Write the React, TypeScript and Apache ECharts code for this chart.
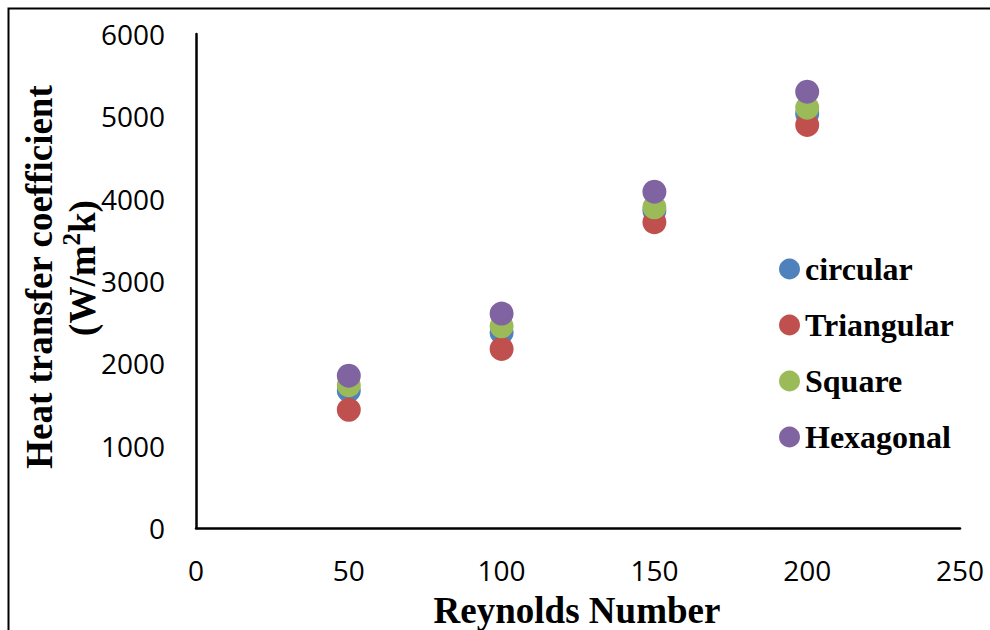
import React, { useEffect, useRef } from "react";
import * as echarts from "echarts";

const reynolds = [50, 100, 150, 200];
const circular = [1670, 2375, 3855, 5030];
const triangular = [1435, 2175, 3715, 4895];
const square = [1735, 2450, 3895, 5105];
const hexagonal = [1850, 2605, 4085, 5300];
const seriesNames = ["circular", "Triangular", "Square", "Hexagonal"];
const colors = ["#4F81BD", "#C0504D", "#9BBB59", "#8064A2"];
const xTitle = "Reynolds Number";
const yTitle1 = "Heat transfer coefficient";
const yTitle2Parts = ["(W/m", "2", "k)"];

export default function App() {
  const ref = useRef<HTMLDivElement>(null);
  useEffect(() => {
    if (!ref.current) return;
    const chart = echarts.init(ref.current, undefined, { renderer: "svg" });
    const all = [circular, triangular, square, hexagonal];
    const serif = "'Liberation Serif', 'Times New Roman', serif";
    const sans = "'Open Sans', sans-serif";
    chart.setOption({
      animation: false,
      backgroundColor: "#ffffff",
      grid: { left: 196, top: 34, right: 30, bottom: 102, containLabel: false },
      xAxis: {
        type: "value",
        min: 0,
        max: 250,
        interval: 50,
        axisLine: { show: true, lineStyle: { color: "#000", width: 2.5 } },
        axisTick: { show: false },
        splitLine: { show: false },
        axisLabel: {
          color: "#000",
          fontSize: 28,
          fontFamily: sans,
          margin: 28,
          formatter: (v: number) => String(v),
        },
      },
      yAxis: {
        type: "value",
        min: 0,
        max: 6000,
        interval: 1000,
        axisLine: { show: true, lineStyle: { color: "#000", width: 2.5 } },
        axisTick: { show: false },
        splitLine: { show: false },
        axisLabel: {
          color: "#000",
          fontSize: 28,
          fontFamily: sans,
          margin: 31,
          formatter: (v: number) => String(v),
        },
      },
      legend: {
        orient: "vertical",
        left: 779,
        top: 251,
        padding: 0,
        itemWidth: 21,
        itemHeight: 21,
        itemGap: 20,
        itemTextGap: 5,
        icon: "circle",
        data: seriesNames,
        textStyle: {
          color: "#000",
          fontSize: 32,
          fontWeight: "bold",
          fontFamily: serif,
          lineHeight: 36,
        },
      },
      graphic: [
        {
          type: "rect",
          shape: { x: 8.5, y: 8.5, width: 1100, height: 800 },
          style: { fill: "none", stroke: "#000", lineWidth: 2 },
          silent: true,
        },
        {
          type: "text",
          x: 577,
          y: 610,
          style: {
            text: xTitle,
            fill: "#000",
            font: `bold 37px ${serif}`,
            align: "center",
            verticalAlign: "middle",
          },
        },
        {
          type: "text",
          x: 39,
          y: 277,
          rotation: Math.PI / 2,
          style: {
            text: yTitle1,
            fill: "#000",
            font: `bold 37px ${serif}`,
            align: "center",
            verticalAlign: "middle",
          },
        },
        {
          type: "text",
          x: 80,
          y: 268,
          rotation: Math.PI / 2,
          style: {
            text: `{a|${yTitle2Parts[0]}}{s|${yTitle2Parts[1]}}{a|${yTitle2Parts[2]}}`,
            fill: "#000",
            align: "center",
            verticalAlign: "middle",
            rich: {
              a: { fontSize: 37, fontWeight: "bold", fontFamily: serif, fill: "#000", lineHeight: 42, verticalAlign: "bottom" },
              s: { fontSize: 25, fontWeight: "bold", fontFamily: serif, fill: "#000", lineHeight: 42, verticalAlign: "top", padding: [0, 0, 0, 0] },
            },
          },
        },
      ],
      series: seriesNames.map((name, i) => ({
        name,
        type: "scatter",
        symbol: "circle",
        symbolSize: 24,
        itemStyle: { color: colors[i], opacity: 1 },
        data: reynolds.map((x, j) => [x, all[i][j]]),
      })),
    });
    return () => chart.dispose();
  }, []);
  return <div ref={ref} style={{ width: 990, height: 630, position: "absolute", left: 0, top: 0 }} />;
}
